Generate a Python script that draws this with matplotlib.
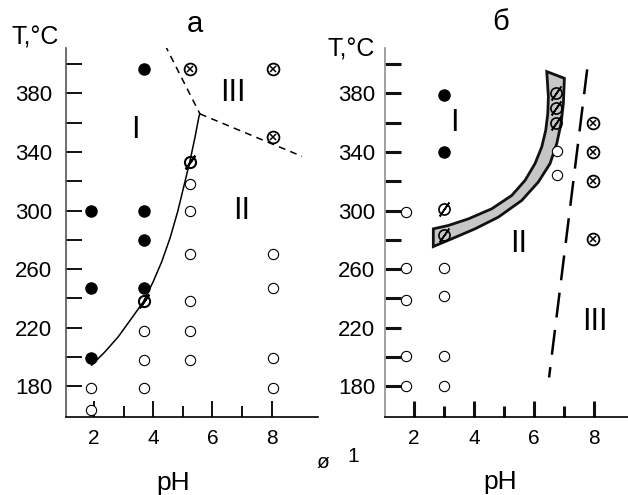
import matplotlib
matplotlib.use('Agg')
from matplotlib import pyplot as plt

plt.rcParams['font.family'] = ['Liberation Sans', 'DejaVu Sans']

# ---- panel a data (pH, T) ----
a_filled_ph = [1.9, 1.9, 1.9, 3.7, 3.7, 3.7, 3.7]
a_filled_t = [300, 247, 199, 397, 300, 280, 247]
a_open_ph = [5.24, 5.24, 5.24, 5.24, 5.24, 5.24, 3.7, 3.7, 3.7, 1.9, 1.9, 8.05, 8.05, 8.05, 8.05]
a_open_t = [318, 300, 270, 238, 218, 198, 218, 198, 179, 179, 164, 270, 247, 199, 179]
a_slash_ph = [3.7, 5.24]
a_slash_t = [238, 333]
a_cross_ph = [5.24, 8.05, 8.05]
a_cross_t = [397, 397, 350]

# boundary I/II (solid)
a_curve_ph = [1.92, 2.37, 2.82, 3.27, 3.67, 4.0, 4.29, 4.57, 4.83, 5.05, 5.24, 5.41, 5.55, 5.58]
a_curve_t = [194.4, 203.5, 213.8, 226.4, 237.7, 251.4, 265.1, 281.2, 299.4, 317.7, 333.6, 349.7, 364.5, 366]
# dashed boundaries to region III
a_dash1_ph = [4.4, 5.58]
a_dash1_t = [413, 366]
a_dash2_ph = [5.58, 9.03]
a_dash2_t = [366, 337]

# ---- panel b data ----
b_filled_ph = [3.0, 3.0]
b_filled_t = [379, 340]
b_slash_ph = [3.0, 3.0, 6.72, 6.72, 6.72]
b_slash_t = [301, 283, 380, 370, 360]
b_open_ph = [1.73, 6.77, 6.77, 1.73, 3.0, 1.73, 3.0, 1.73, 3.0, 1.73, 3.0]
b_open_t = [299, 341, 324, 261, 261, 239, 241.5, 200.5, 200.5, 180.5, 180.5]
b_cross_ph = [7.97, 7.97, 7.97, 7.97]
b_cross_t = [359.5, 340, 320.5, 280.7]

# grey band: upper edge then lower edge
band_up_ph = [2.643, 3.143, 3.81, 4.59, 5.257, 5.70, 6.033, 6.257, 6.39, 6.457, 6.477, 6.423]
band_up_t = [287.5, 289.8, 294.3, 301.2, 310.3, 320.6, 332.1, 343.5, 354.9, 366.3, 377.7, 394.9]
band_lo_ph = [7.01, 6.977, 6.90, 6.757, 6.533, 6.143, 5.59, 4.81, 4.033, 3.257, 2.643]
band_lo_t = [390.3, 373.2, 359.5, 345.8, 332.1, 319.5, 306.9, 295.5, 287.5, 280.7, 275.4]

b_dash_ph = [7.77, 6.5]
b_dash_t = [396.4, 186]

ytick_major = [180, 220, 260, 300, 340, 380]
ytick_minor = [200, 240, 280, 320, 360, 400]
xtick_major = [2, 4, 6, 8]
xtick_minor = [3, 5, 7]

W, H = 628, 495
fig = plt.figure(figsize=(W / 100, H / 100), dpi=100)


def px(x, y):
    return x / W, 1 - y / H


def setup(ax, xlim, spine_col, tw, ypad):
    ax.set_xlim(*xlim)
    ax.set_ylim(159, 411)
    for s in ['top', 'right']:
        ax.spines[s].set_visible(False)
    ax.spines['left'].set_color(spine_col)
    ax.spines['left'].set_linewidth(1.2)
    ax.spines['bottom'].set_linewidth(1.2)
    ax.spines['bottom'].set_color('black')
    ax.set_yticks(ytick_major)
    ax.set_yticks(ytick_minor, minor=True)
    ax.set_xticks(xtick_major)
    ax.set_xticks(xtick_minor, minor=True)
    ax.tick_params(axis='y', which='both', direction='in', length=11.5, width=tw,
                   labelsize=16, pad=ypad, color='#111111')
    ax.tick_params(axis='x', which='major', direction='in', length=11.5, width=tw,
                   labelsize=15, pad=9, color='#111111')
    ax.tick_params(axis='x', which='minor', direction='in', length=8, width=tw,
                   color='#111111')
    ax.patch.set_visible(False)


def markers(ax, fph, ft, oph, ot, sph, st, cph, ct, slash_w):
    ax.plot(oph, ot, 'o', ms=7.4, mfc='white', mec='black', mew=0.8, zorder=4)
    ax.plot(fph, ft, 'o', ms=8, mfc='black', mec='black', zorder=4)
    ax.plot(cph, ct, 'o', ms=8.5, mfc='white', mec='black', mew=1.3, zorder=4)
    ax.plot(cph, ct, 'x', ms=4.8, mec='black', mew=1.1, zorder=5)
    ax.plot(sph, st, 'o', ms=8, mfc='none', mec='black', mew=slash_w, zorder=5)
    ax.plot(sph, st, marker=(2, 2, -35), ls='none', ms=12, mec='black', mew=slash_w, zorder=5)


# ---------- panel a ----------
axa = fig.add_axes([66 / W, 1 - 417 / H, 252 / W, 369 / H])
setup(axa, (1.054, 9.57), '#555555', 1.4, 10)
axa.plot(a_curve_ph, a_curve_t, color='black', lw=1.1, zorder=3)
axa.plot(a_dash1_ph, a_dash1_t, color='black', lw=1.1, ls=(0, (4.5, 3.5)), zorder=3)
axa.plot(a_dash2_ph, a_dash2_t, color='black', lw=1.1, ls=(0, (4.5, 3.5)), zorder=3)
markers(axa, a_filled_ph, a_filled_t, a_open_ph, a_open_t, a_slash_ph, a_slash_t,
        a_cross_ph, a_cross_t, 1.5)
axa.text(3.39, 355, 'I', fontsize=22, ha='center', va='center')
axa.text(7.0, 300, 'II', fontsize=22, ha='center', va='center')
axa.text(6.7, 380, 'III', fontsize=22, ha='center', va='center')

# ---------- panel b ----------
axb = fig.add_axes([385 / W, 1 - 417 / H, 243 / W, 369 / H])
setup(axb, (1.033, 9.13), '#909090', 2.2, 7)
axb.fill(band_up_ph + band_lo_ph, band_up_t + band_lo_t, facecolor='#c6c6c6',
         edgecolor='#111111', lw=2.0, joinstyle='miter', zorder=2)
axb.plot(b_dash_ph, b_dash_t, color='black', lw=1.8, ls=(0, (10, 5)), zorder=3)
markers(axb, b_filled_ph, b_filled_t, b_open_ph, b_open_t, b_slash_ph, b_slash_t,
        b_cross_ph, b_cross_t, 1.2)
axb.text(3.33, 359.5, 'I', fontsize=22, ha='center', va='center')
axb.text(5.47, 277, 'II', fontsize=22, ha='center', va='center')
axb.text(8.03, 224, 'III', fontsize=22, ha='center', va='center')

# ---------- figure texts ----------
fig.text(*px(35, 38), 'T,°C', fontsize=18, ha='center', va='center')
fig.text(*px(351, 49), 'T,°C', fontsize=18, ha='center', va='center')
fig.text(*px(195, 24), 'а', fontsize=21, ha='center', va='center')
fig.text(*px(501, 22), 'б', fontsize=21, ha='center', va='center')
fig.text(*px(173, 490), 'pH', fontsize=19, ha='center', va='baseline')
fig.text(*px(500, 489), 'pH', fontsize=19, ha='center', va='baseline')
fig.text(*px(323, 462), 'ø', fontsize=15, ha='center', va='center')
fig.text(*px(353, 462), '1', fontsize=15, ha='center', va='baseline')

fig.savefig('out.png', dpi=100)
